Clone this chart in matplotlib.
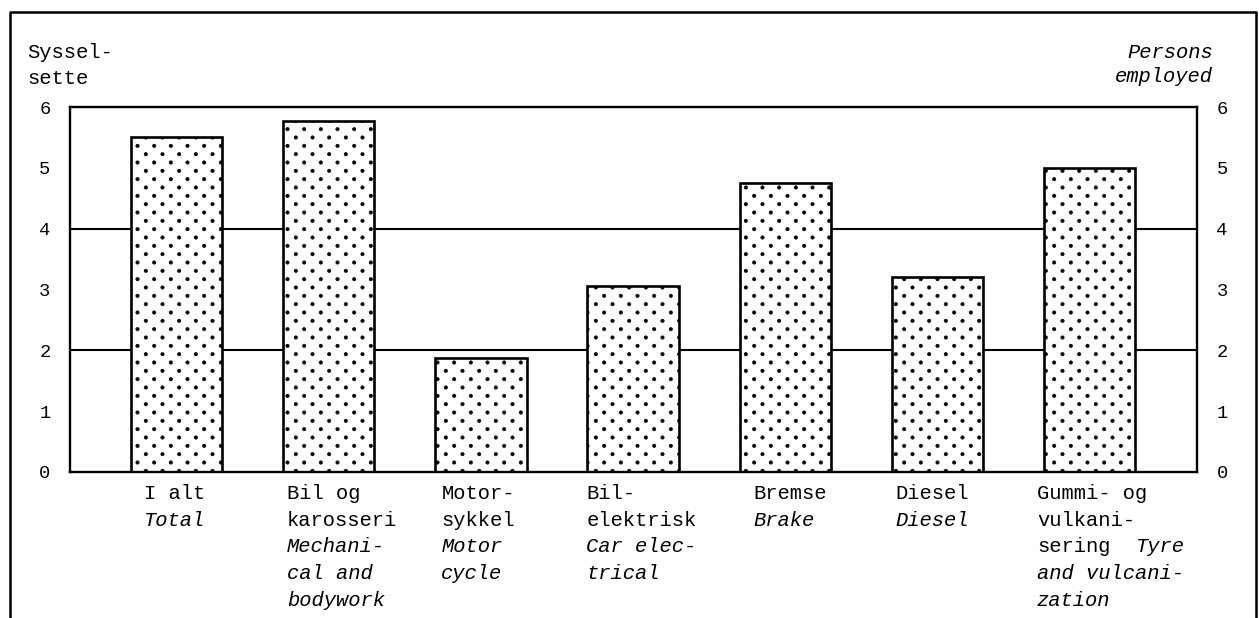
import matplotlib
matplotlib.use("Agg")
import matplotlib.pyplot as plt
import matplotlib.hatch as mhatch
from matplotlib.path import Path
from matplotlib.lines import Line2D
import numpy as np

# persons employed per establishment
values = [5.5, 5.77, 1.88, 3.06, 4.75, 3.2, 5.0]

# label rows under each bar: (norwegian, english)
label_rows = [
    [("I alt", ""), ("", "Total")],
    [("Bil og", ""), ("karosseri", ""), ("", "Mechani-"), ("", "cal and"), ("", "bodywork")],
    [("Motor-", ""), ("sykkel", ""), ("", "Motor"), ("", "cycle")],
    [("Bil-", ""), ("elektrisk", ""), ("", "Car elec-"), ("", "trical")],
    [("Bremse", ""), ("", "Brake")],
    [("Diesel", ""), ("", "Diesel")],
    [("Gummi- og", ""), ("vulkani-", ""), ("sering", "Tyre"), ("", "and vulcani-"), ("", "zation")],
]
label_shift = [13, 4, 6, -1, 14, 4, -7]  # px from bar left edge

yticks = [0, 1, 2, 3, 4, 5, 6]


class DotHatch(mhatch.HatchPatternBase):
    # staggered dot screen, 12 rows x 6 dots per inch
    radius = 0.017

    def __init__(self, hatch, density):
        n = hatch.count('.')
        self.rows = 12 * n
        self.cols = 6 * n
        circle = Path.unit_circle()
        self.shape_vertices = circle.vertices
        self.shape_codes = circle.codes
        self.num_vertices = self.rows * self.cols * len(circle.vertices)

    def set_vertices_and_codes(self, vertices, codes):
        vs, cs = [], []
        for r in range(self.rows):
            for c in range(self.cols):
                x = (c + 0.25 + 0.5 * (r % 2)) / self.cols
                y = (r + 0.5) / self.rows
                vs.append(self.shape_vertices * self.radius + [x, y])
                cs.append(self.shape_codes)
        np.concatenate(vs, out=vertices)
        np.concatenate(cs, out=codes)


# swap the stock '.' hatch for the dot screen above
mhatch._hatch_types = [h for h in mhatch._hatch_types
                       if h is not mhatch.SmallFilledCircles] + [DotHatch]

plt.rcParams['font.family'] = ['Liberation Mono', 'DejaVu Sans Mono']
plt.rcParams['hatch.linewidth'] = 0.4
plt.rcParams['hatch.color'] = 'black'

W, H = 1259, 618
FS = 14.8
fig = plt.figure(figsize=(W / 100, H / 100), dpi=100)
ax = fig.add_axes((70 / W, 1 - 472 / H, 1127 / W, 365 / H))

x = np.arange(len(values))
bars = ax.bar(x, values, width=0.6, color='white', edgecolor='black',
              linewidth=1.9, hatch='.', zorder=2)
for v in (2, 4):
    ax.axhline(v, color='black', linewidth=1.5, zorder=1)

ax.set_xlim(-0.70, 6.705)
ax.set_ylim(0, 6)
ax.set_xticks([])
ax.set_yticks(yticks)
ax.set_yticks([1, 3, 5], minor=True)
ax.tick_params(axis='y', which='major', length=0, pad=14, labelsize=13.5,
               labelleft=True, labelright=True)
ax.tick_params(axis='y', which='minor', direction='in', length=9, width=2,
               left=True, right=True)
for s in ax.spines.values():
    s.set_linewidth(1.7)

char_w = FS * 0.6  # points per character, monospace
for bar, rows, shift in zip(bars, label_rows, label_shift):
    x0 = bar.get_x()
    for k, (no, en) in enumerate(rows):
        dy = -15.8 - k * 19.1
        dx = shift * 0.72
        if no:
            ax.annotate(no, (x0, 0), xytext=(dx, dy), textcoords='offset points',
                        ha='left', va='center', fontsize=FS, annotation_clip=False)
        if en:
            off = dx + (len(no) + 2) * char_w if no else dx
            ax.annotate(en, (x0, 0), xytext=(off, dy), textcoords='offset points',
                        ha='left', va='center', fontsize=FS, style='italic',
                        annotation_clip=False)

fig.text(27 / W, 1 - 53 / H, "Syssel-", fontsize=FS, va='center', ha='left')
fig.text(27 / W, 1 - 78 / H, "sette", fontsize=FS, va='center', ha='left')
fig.text(1213 / W, 1 - 52 / H, "Persons", fontsize=FS, va='center', ha='right', style='italic')
fig.text(1213 / W, 1 - 77 / H, "employed", fontsize=FS, va='center', ha='right', style='italic')

# outer frame, open at the bottom
fig.add_artist(Line2D([10 / W, 10 / W, 1256 / W, 1256 / W],
                      [0, 1 - 12 / H, 1 - 12 / H, 0],
                      transform=fig.transFigure, color='black', linewidth=1.8))

fig.savefig("out.png", dpi=100)
